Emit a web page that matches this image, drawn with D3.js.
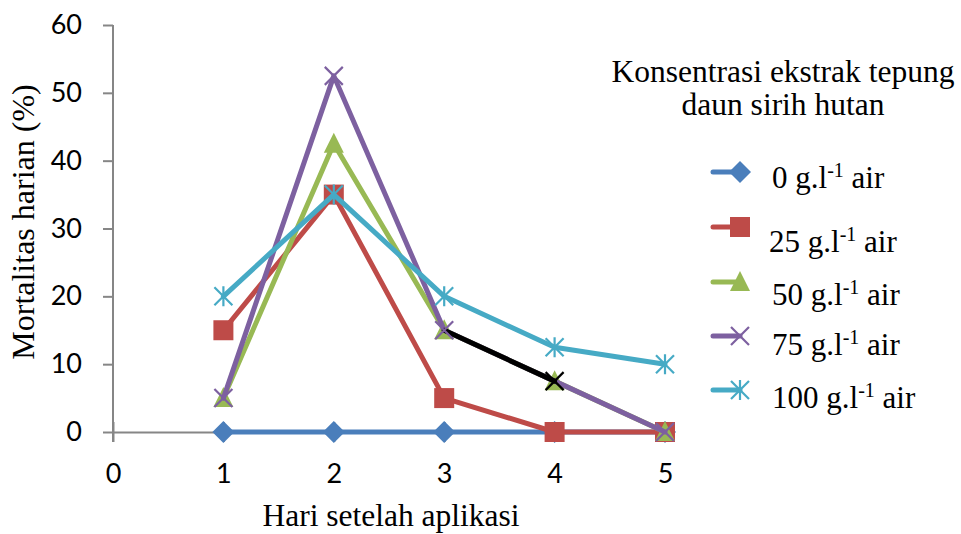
<!DOCTYPE html>
<html><head><meta charset="utf-8">
<script src="https://cdn.jsdelivr.net/npm/d3@7"></script>
<style>body{margin:0;background:#fff}</style>
</head><body>
<svg id="c" width="961" height="534"></svg>
<script>
const days = [1, 2, 3, 4, 5];
const xTicks = [0, 1, 2, 3, 4, 5];
const yTicks = [0, 10, 20, 30, 40, 50, 60];
const seriesNames = ["0", "25", "50", "75", "100"];
const s0 = [0, 0, 0, 0, 0];
const s25 = [15, 35, 5, 0, 0];
const s50 = [5, 42.5, 15, 7.5, 0];
const s75 = [5, 52.5, 15, 7.5, 0];
const s100 = [20, 35, 20, 12.5, 10];
const seriesValues = [s0, s25, s50, s75, s100];
const legendTitle = ["Konsentrasi ekstrak tepung", "daun sirih hutan"];
const xTitle = "Hari setelah aplikasi";
const yTitle = "Mortalitas harian (%)";
// segment of the 75 series drawn in black in the original (from day 3 to day 4)
const blackSegmentSeries = 3, blackSegmentStart = 2;

const colors = ["#4A7EBB", "#BE4B48", "#98B954", "#7D60A0", "#46AAC5"];
const markers = ["diamond", "square", "triangle", "x", "star"];

const svg = d3.select("#c");
const x = d3.scaleLinear().domain([0, 5]).range([113, 665]);
const y = d3.scaleLinear().domain([0, 60]).range([432, 25]);
const axisColor = "#868686";
const sans = "Lato, 'Open Sans', sans-serif";
const serif = "'Liberation Serif', 'Times New Roman', serif";

// y axis
const yAxis = d3.axisLeft(y).tickValues(yTicks).tickSize(10).tickSizeOuter(0).tickPadding(21);
const gy = svg.append("g").attr("transform", "translate(113,0)").call(yAxis);
gy.select(".domain").attr("stroke", axisColor).attr("stroke-width", 2).attr("d", `M0,${y(60)}V${y(0)+10}`);
gy.selectAll(".tick line").attr("stroke", axisColor).attr("stroke-width", 2);
gy.selectAll(".tick text").attr("font-family", sans).attr("font-size", 27).attr("fill", "#000");

// x axis
const xAxis = d3.axisBottom(x).tickValues(xTicks).tickSize(0).tickPadding(32).tickFormat(d3.format("d"));
const gx = svg.append("g").attr("transform", `translate(0,${y(0)})`).call(xAxis);
gx.select(".domain").attr("stroke", axisColor).attr("stroke-width", 2);
gx.selectAll(".tick line").attr("stroke", axisColor).attr("stroke-width", 2).attr("y1", -10).attr("y2", 10);
gx.selectAll(".tick text").attr("font-family", sans).attr("font-size", 27).attr("fill", "#000");

// titles
svg.append("text").attr("x", x(2.5) + 2).attr("y", 526).attr("text-anchor", "middle")
  .attr("font-family", serif).attr("font-size", 31.5).text(xTitle);
svg.append("text").attr("transform", "translate(34,222) rotate(-90)").attr("text-anchor", "middle")
  .attr("font-family", serif).attr("font-size", 32).text(yTitle);

function drawMarker(g, type, cx, cy, color) {
  if (type === "diamond") {
    g.append("path").attr("d", `M${cx},${cy-11}L${cx+11},${cy}L${cx},${cy+11}L${cx-11},${cy}Z`).attr("fill", color);
  } else if (type === "square") {
    g.append("rect").attr("x", cx-10).attr("y", cy-10).attr("width", 20).attr("height", 20).attr("fill", color);
  } else if (type === "triangle") {
    g.append("path").attr("d", `M${cx},${cy-11}L${cx+10},${cy+9}L${cx-10},${cy+9}Z`).attr("fill", color);
  } else if (type === "x") {
    g.append("path").attr("d", `M${cx-9},${cy-9}L${cx+9},${cy+9}M${cx-9},${cy+9}L${cx+9},${cy-9}`)
      .attr("stroke", color).attr("stroke-width", 2.2).attr("fill", "none");
  } else if (type === "star") {
    g.append("path").attr("d", `M${cx-9},${cy-9}L${cx+9},${cy+9}M${cx-9},${cy+9}L${cx+9},${cy-9}M${cx},${cy-10}L${cx},${cy+10}`)
      .attr("stroke", color).attr("stroke-width", 2.2).attr("fill", "none");
  }
}

const line = d3.line().x(d => x(d[0])).y(d => y(d[1]));
seriesValues.forEach((vals, si) => {
  const g = svg.append("g");
  const pts = days.map((d, i) => [d, vals[i]]);
  g.append("path").attr("d", line(pts)).attr("fill", "none").attr("stroke", colors[si])
    .attr("stroke-width", 5).attr("stroke-linejoin", "round").attr("stroke-linecap", "round");
  if (si === blackSegmentSeries) {
    g.append("path").attr("d", line(pts.slice(blackSegmentStart, blackSegmentStart + 2))).attr("fill", "none")
      .attr("stroke", "#000").attr("stroke-width", 5).attr("stroke-linecap", "round");
  }
  pts.forEach((p, i) => {
    const c = (si === blackSegmentSeries && i === blackSegmentStart + 1) ? "#000" : colors[si];
    drawMarker(g, markers[si], x(p[0]), y(p[1]), c);
  });
});

// legend
svg.append("text").attr("x", 783).attr("y", 82).attr("text-anchor", "middle").attr("font-family", serif).attr("font-size", 31.5).text(legendTitle[0]);
svg.append("text").attr("x", 783).attr("y", 115).attr("text-anchor", "middle").attr("font-family", serif).attr("font-size", 31.5).text(legendTitle[1]);
const legMarkerY = [172, 227, 282, 336, 390];
const legTextY = [188, 252, 305, 355, 408];
const legTextX = [772, 769, 772, 772, 772];
seriesNames.forEach((n, i) => {
  const g = svg.append("g");
  g.append("line").attr("x1", 713).attr("x2", 740).attr("y1", legMarkerY[i]).attr("y2", legMarkerY[i])
    .attr("stroke", colors[i]).attr("stroke-width", 5).attr("stroke-linecap", "round");
  drawMarker(g, markers[i], 740, legMarkerY[i], colors[i]);
  const t = g.append("text").attr("x", legTextX[i]).attr("y", legTextY[i]).attr("font-family", serif).attr("font-size", 31);
  t.append("tspan").text(n + " g.l");
  t.append("tspan").attr("font-size", 20).attr("dy", -11).text("-1");
  t.append("tspan").attr("dy", 11).text(" air");
});
</script>
</body></html>
